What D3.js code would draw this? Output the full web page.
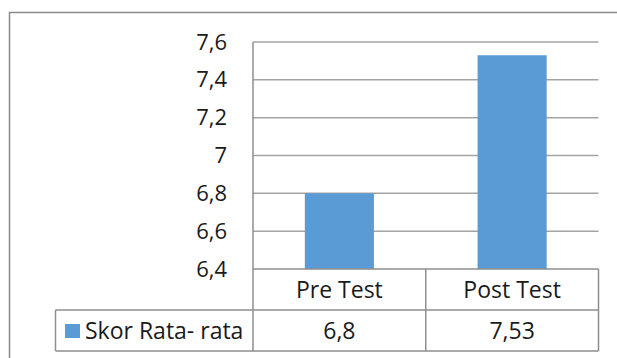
<!DOCTYPE html>
<html>
<head>
<meta charset="utf-8">
<script src="https://cdn.jsdelivr.net/npm/d3@7"></script>
<style>
  html, body { margin: 0; padding: 0; background: #fff; }
  svg { display: block; font-family: "Open Sans", "Noto Sans", sans-serif; }
</style>
</head>
<body>
<svg id="chart" width="617" height="358"></svg>
<script>
// Data
const categories = ["Pre Test", "Post Test"];
const seriesName = "Skor Rata- rata";
const seriesValues = [6.8, 7.53];
const valueLabels = ["6,8", "7,53"];
const tickValues = [6.4, 6.6, 6.8, 7.0, 7.2, 7.4, 7.6];
const tickLabels = ["6,4", "6,6", "6,8", "7", "7,2", "7,4", "7,6"];

const svg = d3.select("#chart");
const barColor = "#5b9bd5";
const gridColor = "#a3a3a3";
const borderColor = "#8e8e8e";
const fontSize = 22;
const tableFontSize = 23;

const plot = { left: 253, right: 598.5, top: 42, bottom: 269 };
const rowH = 41;
const legendLeft = 55.5;

// Outer chart frame
svg.append("path")
  .attr("d", `M9.5,358 V12.5 H617`)
  .attr("fill", "none")
  .attr("stroke", "#8a8a8a")
  .attr("stroke-width", 1.5);

const y = d3.scaleLinear().domain([6.4, 7.6]).range([plot.bottom, plot.top]);
const x = d3.scaleBand().domain(categories).range([plot.left, plot.right])
  .paddingInner(0.6).paddingOuter(0.3);
const col = d3.scaleBand().domain(categories).range([plot.left, plot.right]);

// Gridlines
svg.append("g")
  .selectAll("line")
  .data(tickValues.slice(1))
  .join("line")
  .attr("x1", plot.left).attr("x2", plot.right)
  .attr("y1", d => y(d)).attr("y2", d => y(d))
  .attr("stroke", gridColor).attr("stroke-width", 1.5);

// Bars
svg.append("g")
  .selectAll("rect")
  .data(categories)
  .join("rect")
  .attr("x", d => x(d))
  .attr("width", x.bandwidth())
  .attr("y", (d, i) => y(seriesValues[i]))
  .attr("height", (d, i) => y(6.4) - y(seriesValues[i]))
  .attr("fill", barColor);

// Value axis labels
const yAxis = d3.axisLeft(y)
  .tickValues(tickValues)
  .tickSize(0)
  .tickPadding(26)
  .tickFormat((d, i) => tickLabels[i]);
const ax = svg.append("g")
  .attr("transform", `translate(${plot.left},0)`)
  .call(yAxis);
ax.select(".domain").remove();
ax.selectAll("text")
  .attr("font-size", fontSize)
  .attr("font-family", "'Open Sans', sans-serif")
  .attr("fill", "#1a1a1a");

// Data table below the plot
const tbl = svg.append("g").attr("fill", "none").attr("stroke", borderColor).attr("stroke-width", 1.5);
const r1 = plot.bottom, r2 = plot.bottom + rowH, r3 = plot.bottom + 2 * rowH;
// vertical axis line continuing down as the first column divider
tbl.append("line").attr("x1", plot.left).attr("x2", plot.left).attr("y1", plot.top).attr("y2", r3);
tbl.append("line").attr("x1", plot.left).attr("x2", plot.right).attr("y1", r1).attr("y2", r1);
tbl.append("line").attr("x1", legendLeft).attr("x2", plot.right).attr("y1", r2).attr("y2", r2);
tbl.append("line").attr("x1", legendLeft).attr("x2", plot.right).attr("y1", r3).attr("y2", r3);
tbl.append("line").attr("x1", legendLeft).attr("x2", legendLeft).attr("y1", r2).attr("y2", r3);
tbl.append("line").attr("x1", plot.right).attr("x2", plot.right).attr("y1", r1).attr("y2", r3);
tbl.selectAll("line.div")
  .data(categories.slice(1))
  .join("line")
  .attr("class", "div")
  .attr("x1", d => col(d)).attr("x2", d => col(d))
  .attr("y1", r1).attr("y2", r3);

// Category headers
svg.append("g")
  .selectAll("text")
  .data(categories)
  .join("text")
  .attr("x", d => col(d) + col.bandwidth() / 2)
  .attr("y", (r1 + r2) / 2)
  .attr("dy", "0.35em")
  .attr("text-anchor", "middle")
  .attr("font-size", tableFontSize)
  .attr("fill", "#1a1a1a")
  .text(d => d);

// Value row
svg.append("g")
  .selectAll("text")
  .data(categories)
  .join("text")
  .attr("x", d => col(d) + col.bandwidth() / 2)
  .attr("y", (r2 + r3) / 2)
  .attr("dy", "0.35em")
  .attr("text-anchor", "middle")
  .attr("font-size", tableFontSize)
  .attr("fill", "#1a1a1a")
  .text((d, i) => valueLabels[i]);

// Legend key
svg.append("rect")
  .attr("x", 65).attr("y", 324)
  .attr("width", 15).attr("height", 14)
  .attr("fill", barColor);
svg.append("text")
  .attr("x", 85)
  .attr("y", (r2 + r3) / 2)
  .attr("dy", "0.35em")
  .attr("font-size", tableFontSize)
  .attr("fill", "#1a1a1a")
  .text(seriesName);
</script>
</body>
</html>
